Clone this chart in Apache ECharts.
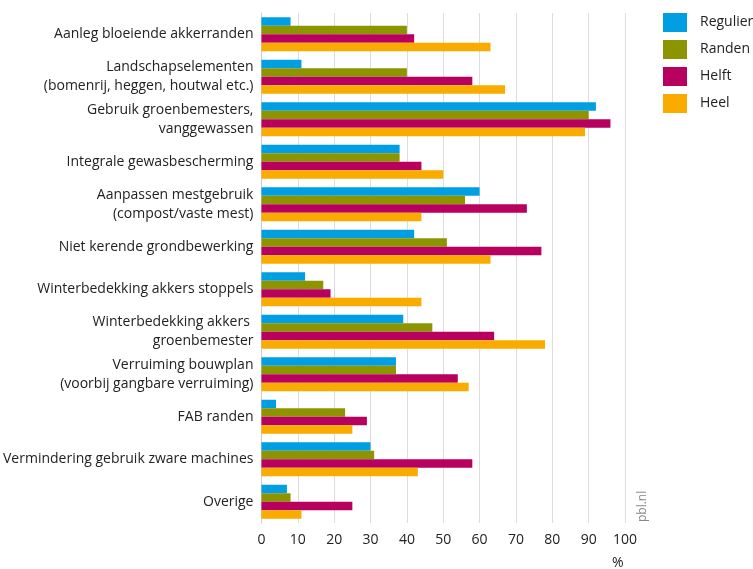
<!DOCTYPE html>
<html>
<head>
<meta charset="utf-8">
<script src="https://cdn.jsdelivr.net/npm/echarts@6/dist/echarts.min.js"></script>
<style>
  html, body { margin: 0; padding: 0; background: #fff; }
  #chart { width: 753px; height: 569px; }
</style>
</head>
<body>
<div id="chart"></div>
<script>
// categories, top to bottom
const categories = [
  "Aanleg bloeiende akkerranden",
  "Landschapselementen\n(bomenrij, heggen, houtwal etc.)",
  "Gebruik groenbemesters,\nvanggewassen",
  "Integrale gewasbescherming",
  "Aanpassen mestgebruik\n(compost/vaste mest)",
  "Niet kerende grondbewerking",
  "Winterbedekking akkers stoppels",
  "Winterbedekking akkers \ngroenbemester",
  "Verruiming bouwplan\n(voorbij gangbare verruiming)",
  "FAB randen",
  "Vermindering gebruik zware machines",
  "Overige"
];

const regulier = [8, 11, 92, 38, 60, 42, 12, 39, 37, 4, 30, 7];
const randen   = [40, 40, 90, 38, 56, 51, 17, 47, 37, 23, 31, 8];
const helft    = [42, 58, 96, 44, 73, 77, 19, 64, 54, 29, 58, 25];
const heel     = [63, 67, 89, 50, 44, 63, 44, 78, 57, 25, 43, 11];

const seriesNames = ["Regulier", "Randen", "Helft", "Heel"];
const colors = ["#009fe3", "#8c9500", "#b8005f", "#f9ab00"];

const font = "'Open Sans', 'Noto Sans', sans-serif";
const chart = echarts.init(document.getElementById("chart"));

const mkSeries = (name, data, i) => ({
  name: name,
  type: "bar",
  data: data,
  itemStyle: { color: colors[i] },
  barGap: 0,
  barCategoryGap: "20%",
  emphasis: { disabled: true }
});

chart.setOption({
  animation: false,
  textStyle: { fontFamily: font },
  grid: { left: 259, right: 128, top: 13, bottom: 46, containLabel: false },
  legend: {
    orient: "vertical",
    left: 663,
    top: 13,
    padding: 0,
    icon: "rect",
    itemWidth: 24,
    itemHeight: 19,
    itemGap: 8,
    textStyle: { fontSize: 14, color: "#222", fontFamily: font, padding: [0, 0, 0, 8] },
    data: seriesNames
  },
  xAxis: {
    type: "value",
    min: 0,
    max: 100,
    interval: 10,
    axisLine: { show: false },
    axisTick: { show: false },
    splitLine: { show: true, lineStyle: { color: "#dddddd", width: 1 } },
    axisLabel: { fontSize: 14, color: "#222", margin: 10, fontFamily: font }
  },
  yAxis: {
    type: "category",
    inverse: true,
    data: categories,
    axisLine: { show: true, lineStyle: { color: "#cccccc" } },
    axisTick: { show: false },
    axisLabel: { fontSize: 14, color: "#222", margin: 8, lineHeight: 19, fontFamily: font, align: "right" }
  },
  series: [
    mkSeries(seriesNames[0], regulier, 0),
    mkSeries(seriesNames[1], randen, 1),
    mkSeries(seriesNames[2], helft, 2),
    mkSeries(seriesNames[3], heel, 3)
  ],
  graphic: [
    {
      type: "text",
      left: 612,
      top: 556,
      style: { text: "%", fontSize: 14, fill: "#222", fontFamily: font }
    },
    {
      type: "text",
      x: 637,
      y: 522,
      rotation: Math.PI / 2,
      style: { text: "pbl.nl", fontSize: 12, fill: "#888", fontFamily: font }
    }
  ]
});
</script>
</body>
</html>
